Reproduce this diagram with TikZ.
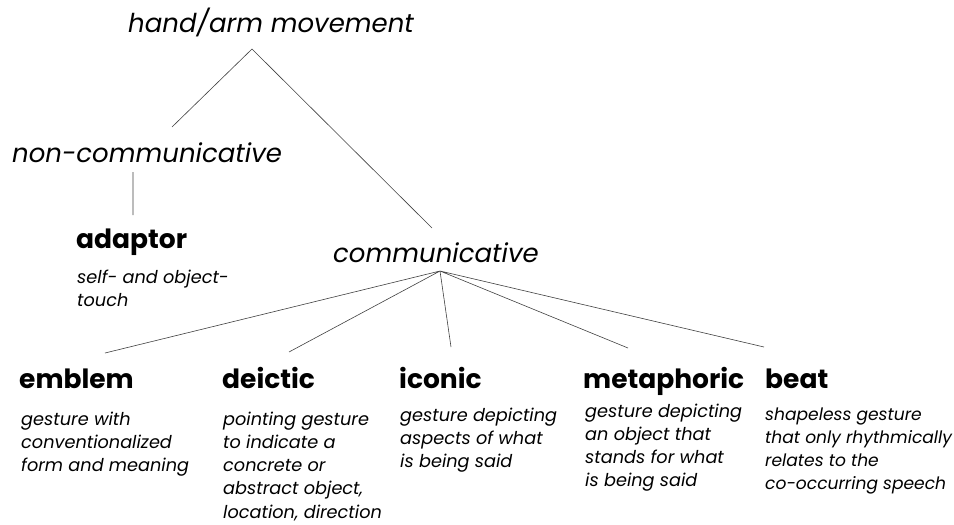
\documentclass[tikz,border=0pt]{standalone}
\usepackage{fontspec}
\setmainfont{Poppins}
\begin{document}
\begin{tikzpicture}[
x=1pt,y=-1pt,
level/.style={font=\itshape\fontsize{26}{32}\selectfont,anchor=base west,inner sep=0},
cat/.style={font=\bfseries\fontsize{26.5}{32}\selectfont,anchor=base west,inner sep=0},
desc/.style={font=\itshape\fontsize{17.7}{23.3}\selectfont,align=left,anchor=base west,inner sep=0},
edge/.style={draw=black!75,line width=0.6pt},
]
\useasboundingbox (0,0) rectangle (954,525);
% upper levels
\node[level] (hand) at (128,32) {hand/arm movement};
\node[level] (noncomm) at (12,162) {non-communicative};
\node[level] (comm) at (333,262) {communicative};
\node[cat] (adaptor) at (76,248) {adaptor};
\node[desc] (adaptordesc) at (77,306.3) {self- and object-\\touch};
% gesture types (desc nodes sit on their last baseline)
\node[cat] (emblem) at (19,388) {emblem};
\node[cat] (deictic) at (222,388) {deictic};
\node[cat] (iconic) at (399,388) {iconic};
\node[cat] (metaphoric) at (583,388) {metaphoric};
\node[cat] (beat) at (765,388) {beat};
\node[desc] (emblemdesc) at (21,471.6) {gesture with\\conventionalized\\form and meaning};
\node[desc] (deicticdesc) at (223,518.2) {pointing gesture\\to indicate a\\concrete or\\abstract object,\\location, direction};
\node[desc] (iconicdesc) at (400,467.6) {gesture depicting\\aspects of what\\is being said};
\node[desc] (metaphoricdesc) at (585,486.9) {gesture depicting\\an object that\\stands for what\\is being said};
\node[desc,font=\itshape\fontsize{17.1}{23.3}\selectfont] (beatdesc) at (765,489.9) {shapeless gesture\\that only rhythmically\\relates to the\\co-occurring speech};
% tree lines
\path[edge]
    ([xshift=160pt,yshift=35pt]noncomm.base west) -- ([xshift=124pt,yshift=-17pt]hand.base west)
    -- ([xshift=99pt,yshift=34pt]comm.base west)
    ([xshift=121pt,yshift=-10pt]noncomm.base west) -- ([xshift=57pt,yshift=33pt]adaptor.base west);
\path[edge]
    ([xshift=107pt,yshift=-9pt]comm.base west) -- ([xshift=86pt,yshift=35pt]emblem.base west)
    ([xshift=107pt,yshift=-9pt]comm.base west) -- ([xshift=67pt,yshift=36pt]deictic.base west)
    ([xshift=107pt,yshift=-9pt]comm.base west) -- ([xshift=52pt,yshift=41pt]iconic.base west)
    ([xshift=107pt,yshift=-9pt]comm.base west) -- ([xshift=45pt,yshift=40pt]metaphoric.base west)
    ([xshift=107pt,yshift=-9pt]comm.base west) -- ([xshift=-1pt,yshift=41pt]beat.base west);
\end{tikzpicture}
\end{document}
